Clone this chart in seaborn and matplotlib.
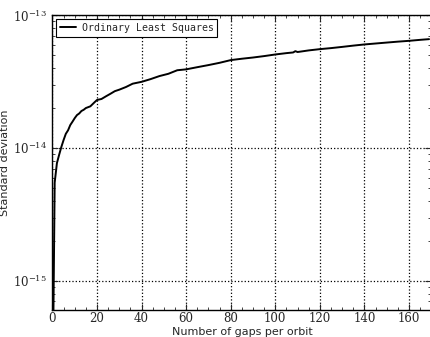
import numpy as np
import pandas as pd
import matplotlib
matplotlib.use("Agg")
import matplotlib.pyplot as plt
import matplotlib.ticker as mticker
import seaborn as sns

# values (std in units of 1e-14)
gaps = [0, 1, 2, 3, 4, 5, 6, 7, 8, 9, 10, 11, 12, 13, 14, 15, 17, 19, 20, 22,
        24, 26, 28, 30, 33, 36, 40, 44, 48, 52, 56, 60, 65, 70, 75, 80, 85, 90,
        95, 100, 105, 108, 109, 110, 115, 120, 125, 130, 135, 140, 145, 150,
        155, 160, 165, 169]
std_e14 = [0.01, 0.55, 0.77, 0.89, 1.02, 1.15, 1.28, 1.36, 1.49, 1.58, 1.68,
           1.77, 1.82, 1.90, 1.94, 2.00, 2.06, 2.22, 2.30, 2.34, 2.45, 2.56,
           2.68, 2.75, 2.88, 3.05, 3.15, 3.30, 3.48, 3.62, 3.85, 3.91, 4.06,
           4.21, 4.38, 4.59, 4.70, 4.80, 4.92, 5.06, 5.18, 5.24, 5.36, 5.28,
           5.43, 5.55, 5.65, 5.77, 5.90, 6.02, 6.12, 6.22, 6.32, 6.41, 6.52,
           6.60]
label = "Ordinary Least Squares"

df = pd.DataFrame({"gaps": gaps, "std": np.array(std_e14) * 1e-14})

sns.set_style("ticks")
plt.rcParams.update({
    "xtick.direction": "in", "ytick.direction": "in",
    "xtick.top": True, "ytick.right": True,
    "xtick.major.size": 4, "ytick.major.size": 4,
    "xtick.minor.size": 2, "ytick.minor.size": 2,
    "axes.edgecolor": "black", "axes.linewidth": 1.0,
})

fig = plt.figure(figsize=(4.3, 3.37), dpi=100)
ax = fig.add_axes([0.122, 0.079, 0.881, 0.876])

sns.lineplot(data=df, x="gaps", y="std", ax=ax, color="black", linewidth=1.4,
             label=label)
ax.set_yscale("log")
ax.set_xlim(0, 170)
ax.set_ylim(6e-16, 1e-13)

ax.xaxis.set_major_locator(mticker.MultipleLocator(20))
ax.xaxis.set_minor_locator(mticker.MultipleLocator(5))
ax.yaxis.set_major_locator(mticker.LogLocator(base=10))
ax.yaxis.set_minor_locator(mticker.LogLocator(base=10, subs=np.arange(2, 10)))
ax.yaxis.set_minor_formatter(mticker.NullFormatter())

ax.grid(True, which="major", color="black", linestyle=":", linewidth=0.9)

for lab in ax.get_xticklabels() + ax.get_yticklabels():
    lab.set_family("DejaVu Serif")
    lab.set_fontsize(8.5)
ax.tick_params(axis="x", which="major", pad=1.5)
ax.tick_params(axis="y", which="major", pad=4)

ax.set_xlabel("Number of gaps per orbit", fontsize=8, family="DejaVu Sans",
              labelpad=1)
ax.set_ylabel("Standard deviation", fontsize=8, family="DejaVu Sans",
              labelpad=2)

leg = ax.legend(loc="upper left", fancybox=False, framealpha=1,
                edgecolor="black", prop={"family": "DejaVu Sans Mono", "size": 7.1},
                borderaxespad=0.35, handlelength=1.6, handletextpad=0.6)
leg.get_frame().set_linewidth(0.8)

fig.savefig("out.png", dpi=100)
